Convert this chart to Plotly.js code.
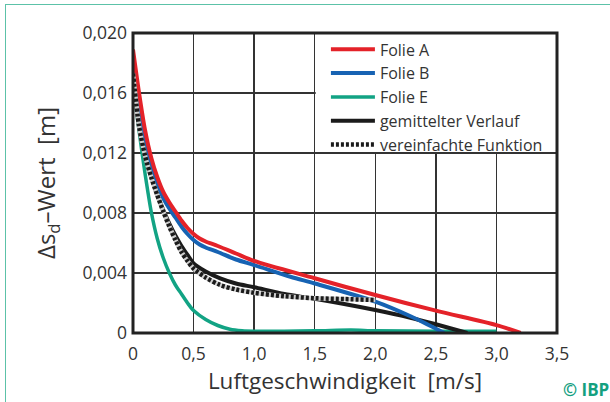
<!DOCTYPE html>
<html>
<head>
<meta charset="utf-8">
<script src="https://cdn.plot.ly/plotly-3.0.1.min.js"></script>
<style>
  html, body { margin: 0; padding: 0; background: #fff; }
  #wrap { position: relative; width: 610px; height: 402px; overflow: hidden; }
  #chart { position: absolute; left: 0; top: 0; width: 610px; height: 402px; }
  #frame { position: absolute; left: 5px; top: 4px; width: 620px; height: 420px;
           border-left: 1.5px solid #5cc2a8; border-top: 1.5px solid #5cc2a8; pointer-events: none; }
</style>
</head>
<body>
<div id="wrap"><div id="chart"></div><div id="frame"></div></div>
<script>
// ---- data ----
const xFolieA = [0, 0.05, 0.1, 0.15, 0.2, 0.25, 0.3, 0.35, 0.4, 0.45, 0.5, 0.55, 0.6, 0.7, 0.85, 1.0, 1.5, 2.0, 2.5, 3.0, 3.2];
const yFolieA = [0.0189, 0.0160, 0.0135, 0.0117, 0.0104, 0.0094, 0.0087, 0.0081, 0.0075, 0.0070, 0.0066, 0.0063, 0.0061, 0.0058, 0.0053, 0.0048, 0.00365, 0.00253, 0.00149, 0.00053, 0];

const xFolieB = [0, 0.05, 0.1, 0.15, 0.2, 0.25, 0.3, 0.35, 0.4, 0.45, 0.5, 0.55, 0.6, 0.7, 0.85, 1.0, 1.3, 1.5, 2.0, 2.3, 2.57];
const yFolieB = [0.0178, 0.0150, 0.0128, 0.0112, 0.0100, 0.0090, 0.0083, 0.0077, 0.0071, 0.0066, 0.0062, 0.0059, 0.0057, 0.0054, 0.0049, 0.00453, 0.00375, 0.0033, 0.00209, 0.00108, 0];

const xFolieE = [0, 0.025, 0.05, 0.075, 0.1, 0.125, 0.15, 0.2, 0.25, 0.3, 0.35, 0.4, 0.45, 0.5, 0.6, 0.7, 0.8, 0.9, 1.0, 1.5, 1.8, 2.0, 2.5, 3.0];
const yFolieE = [0.0165, 0.0150, 0.0135, 0.0120, 0.0106, 0.0093, 0.0081, 0.0063, 0.0050, 0.0040, 0.0032, 0.0026, 0.0020, 0.0015, 0.0009, 0.0005, 0.00025, 0.00015, 0.00012, 0.00015, 0.0002, 0.00015, 0.00012, 0.00012];

const xMittel = [0, 0.05, 0.1, 0.15, 0.2, 0.25, 0.3, 0.35, 0.4, 0.45, 0.5, 0.6, 0.72, 0.85, 1.0, 1.25, 1.5, 2.0, 2.29, 2.5, 2.76];
const yMittel = [0.0172, 0.0138, 0.0118, 0.0104, 0.0092, 0.0082, 0.0073, 0.0065, 0.0058, 0.0052, 0.00464, 0.0041, 0.00364, 0.0033, 0.00305, 0.0026, 0.00228, 0.00153, 0.00102, 0.00058, 0];

const xFunktion = [0, 0.05, 0.1, 0.15, 0.2, 0.25, 0.3, 0.35, 0.4, 0.45, 0.5, 0.6, 0.72, 0.85, 1.0, 1.25, 1.5, 1.75, 2.0];
const yFunktion = [0.0173, 0.0138, 0.0118, 0.0104, 0.0092, 0.0081, 0.0071, 0.0062, 0.0054, 0.0048, 0.0043, 0.0037, 0.0032, 0.0029, 0.00268, 0.00245, 0.00232, 0.00226, 0.0022];

const seriesNames = ['Folie A', 'Folie B', 'Folie E', 'gemittelter Verlauf', 'vereinfachte Funktion'];

const xTickVals = [0, 0.5, 1.0, 1.5, 2.0, 2.5, 3.0, 3.5];
const xTickText = ['0', '0,5', '1,0', '1,5', '2,0', '2,5', '3,0', '3,5'];
const yTickVals = [0, 0.004, 0.008, 0.012, 0.016, 0.020];
const yTickText = ['0', '0,004', '0,008', '0,012', '0,016', '0,020'];

const xTitle = 'Luftgeschwindigkeit\u00a0\u00a0[m/s]';
const yTitle = '\u0394s<sub>d</sub>\u2013Wert\u00a0\u00a0[m]';

// ---- styles ----
const cRed = '#e42229', cBlue = '#1763b3', cGreen = '#12a384', cBlack = '#1b1b1b';
const spl = {shape: 'spline', smoothing: 0.8};

const traces = [
  {x: xFolieE, y: yFolieE, name: seriesNames[2], legendrank: 3, mode: 'lines',
   line: Object.assign({color: cGreen, width: 3.5}, spl)},
  {x: xMittel, y: yMittel, name: seriesNames[3], legendrank: 4, mode: 'lines',
   line: Object.assign({color: cBlack, width: 4}, spl)},
  {x: xFolieB, y: yFolieB, name: seriesNames[1], legendrank: 2, mode: 'lines',
   line: Object.assign({color: cBlue, width: 4}, spl)},
  {x: xFolieA, y: yFolieA, name: seriesNames[0], legendrank: 1, mode: 'lines',
   line: Object.assign({color: cRed, width: 4}, spl)},
  {x: xFunktion, y: yFunktion, showlegend: false, hoverinfo: 'skip', mode: 'lines',
   line: Object.assign({color: '#cfcfcf', width: 4.5}, spl)},
  {x: xFunktion, y: yFunktion, name: seriesNames[4], legendrank: 5, mode: 'lines',
   line: Object.assign({color: cBlack, width: 4.5, dash: '3px,2px'}, spl)}
];

const font = 'Open Sans, Noto Sans, sans-serif';

const layout = {
  width: 610, height: 402,
  margin: {l: 133, r: 53, t: 33, b: 69, pad: 0},
  paper_bgcolor: '#ffffff', plot_bgcolor: '#ffffff',
  separators: ',.',
  font: {family: font, color: '#333333', size: 16},
  showlegend: true,
  legend: {x: 0.455, y: 1.002, xanchor: 'left', yanchor: 'top', bgcolor: 'rgba(0,0,0,0)',
           borderwidth: 0, itemwidth: 44, font: {size: 16, color: '#333333'}, tracegroupgap: 0},
  xaxis: {range: [0, 3.5], tickvals: xTickVals, ticktext: xTickText, showgrid: true,
          gridcolor: '#333333', gridwidth: 1.3, zeroline: false, showline: false, ticks: '',
          ticklabelstandoff: 8, tickfont: {size: 17.5, color: '#333333'},
          title: {text: xTitle, font: {size: 22.5, color: '#333333'}, standoff: 8}},
  yaxis: {range: [0, 0.020], tickvals: yTickVals, ticktext: yTickText, showgrid: true,
          gridcolor: '#333333', gridwidth: 1.3, zeroline: false, showline: false, ticks: '',
          ticklabelstandoff: 5, tickfont: {size: 17.5, color: '#333333'},
          title: {text: yTitle, font: {size: 24, color: '#333333'}, standoff: 20}},
  shapes: [
    {type: 'rect', xref: 'x', yref: 'y', x0: 1.508, x1: 3.5, y0: 0.01206, y1: 0.020,
     fillcolor: '#ffffff', line: {width: 0}, layer: 'above'},
    {type: 'rect', xref: 'paper', yref: 'paper', x0: 0, x1: 1, y0: 0, y1: 1,
     line: {color: '#222222', width: 3}, layer: 'above'}
  ],
  annotations: [
    {text: '<b>\u00a9 IBP</b>', xref: 'paper', yref: 'paper', x: 1.127, y: -0.188,
     xanchor: 'right', yanchor: 'middle', showarrow: false,
     font: {family: font, size: 17, color: '#14a07f'}}
  ]
};

Plotly.newPlot('chart', traces, layout, {staticPlot: true, displayModeBar: false});
</script>
</body>
</html>
